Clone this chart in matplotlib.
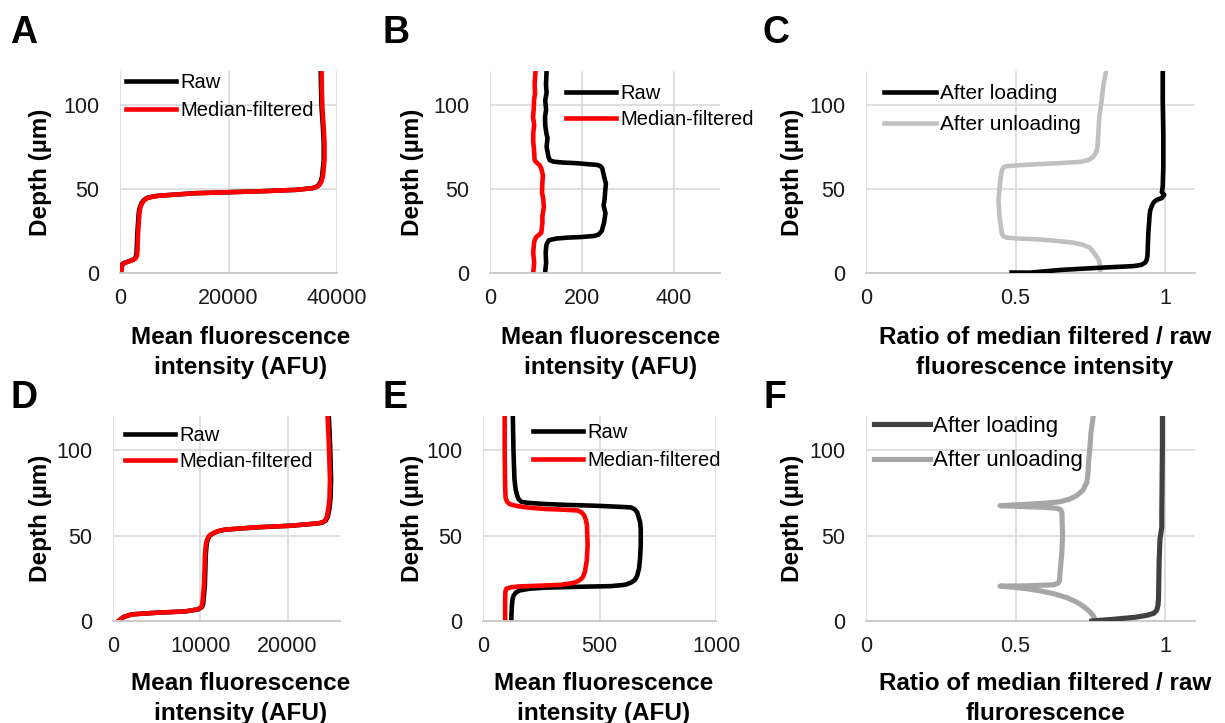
import matplotlib
matplotlib.use("Agg")
import matplotlib.pyplot as plt

plt.rcParams['font.family'] = ['Liberation Sans', 'DejaVu Sans']

W, H = 1225, 723

# ---------------- data ----------------
# Panel A
A_depth = [0, 4, 5.5, 6.5, 7.5, 8.5, 10, 12, 24, 35.6, 39, 41.5, 43.3, 44.5, 45.3, 45.9, 47.4, 48, 48.6, 49.4, 50.4, 51.2, 52.4, 54.5, 57.3, 67, 77, 87, 98.6, 110, 120]
A_raw = [150, 250, 500, 1200, 2100, 2700, 2950, 3050, 3200, 3450, 3650, 3950, 4400, 4900, 5900, 7050, 13900, 20050, 26250, 32400, 35450, 36150, 36650, 37000, 37250, 37550, 37550, 37400, 37150, 37050, 37000]
A_med = [250, 370, 600, 1300, 2200, 2840, 3100, 3200, 3330, 3580, 3750, 4070, 4500, 5000, 6000, 7160, 13950, 20100, 26300, 32470, 35550, 36300, 36790, 37150, 37400, 37700, 37700, 37530, 37300, 37200, 37160]

# Panel B
B_raw_depth = [0, 6, 12, 15, 17, 19.5, 20.5, 21, 21.4, 22, 22.8, 25, 30, 35.6, 40, 43.5, 49.4, 53, 57.3, 62.2, 63.5, 64.2, 64.7, 65.2, 65.6, 66.1, 67, 69, 72, 75, 80, 83, 88, 92.7, 97, 102.5, 107, 112, 120]
B_raw = [119.6, 122, 121, 122, 123, 128, 145, 168, 200, 226, 236, 243, 248, 251, 247, 249, 250.7, 252, 248, 244, 240, 233, 210, 190, 160, 139, 130, 127, 125, 123, 125, 122.5, 120, 119.6, 122, 120, 123, 121.7, 123]
B_med_depth = [0, 6, 12, 18, 20, 21.5, 23, 24, 30, 33.7, 39, 43.5, 48, 53.3, 58, 62, 64, 65, 66, 67, 73, 78, 83, 88, 92.7, 97, 102.5, 107, 112, 120]
B_med = [94, 96, 94, 95.7, 98, 101, 108, 111.6, 114, 113.8, 117, 116, 113, 113.8, 115, 111.6, 108, 104, 100, 97, 95.7, 94, 94, 96, 93.5, 95, 95.7, 98, 97, 99]

# Panel C
C_load_depth = [0.3, 0.2, 1.8, 3.1, 4.1, 4.8, 6.1, 7.5, 10, 23.8, 33.7, 37, 39.6, 42, 43.5, 44.5, 46.5, 48, 51.2, 63, 82.9, 102.5, 120]
C_load = [0.487, 0.548, 0.649, 0.78, 0.894, 0.92, 0.933, 0.938, 0.941, 0.944, 0.948, 0.95, 0.955, 0.962, 0.972, 0.989, 0.997, 0.989, 0.992, 0.994, 0.994, 0.992, 0.992]
C_unload_depth = [0, 4, 7, 9, 12, 15, 16.8, 18, 19.2, 20, 20.6, 21, 22, 23.8, 33.7, 43.5, 53.3, 61, 62.7, 63.5, 64.1, 64.6, 65.3, 66, 67.2, 69, 72, 75, 83, 92.7, 102.5, 112, 120]
C_unload = [0.783, 0.783, 0.78, 0.774, 0.762, 0.749, 0.725, 0.693, 0.63, 0.571, 0.5, 0.47, 0.458, 0.454, 0.446, 0.443, 0.448, 0.454, 0.46, 0.47, 0.52, 0.571, 0.65, 0.716, 0.745, 0.76, 0.77, 0.774, 0.777, 0.78, 0.788, 0.794, 0.803]

# Panel D
D_depth = [0, 2.3, 3.9, 4.9, 5.6, 6.8, 8.2, 10, 20.8, 38.3, 44, 47, 49.5, 51, 52.6, 53.5, 54.9, 55.8, 57.2, 57.8, 58.8, 61, 65.6, 72, 83, 102.5, 120]
D_raw = [640, 1200, 2160, 5200, 8260, 9750, 10200, 10330, 10520, 10620, 10710, 10800, 11020, 11350, 12050, 12850, 16680, 20500, 23580, 24080, 24370, 24600, 24780, 24920, 24980, 24870, 24720]
D_med = [610, 1180, 2140, 5190, 8240, 9690, 10100, 10230, 10420, 10530, 10620, 10730, 10950, 11300, 12000, 12820, 16640, 20460, 23510, 24000, 24270, 24500, 24660, 24800, 24850, 24730, 24580]

# Panel E
E_raw_depth = [0, 9.1, 13, 15, 16.8, 17.9, 18.9, 19.5, 20, 20.4, 21.2, 22.4, 24, 26.6, 31, 36.4, 44.2, 54, 58, 63.6, 65.5, 66.5, 67, 67.5, 68, 68.5, 69.2, 69.8, 71.5, 73.3, 77, 83, 98.6, 120]
E_raw = [121, 124, 127, 132, 142, 157, 200, 264, 400, 548, 610, 634, 652, 662, 670, 674, 677, 677, 674, 662, 650, 634, 560, 477, 350, 264, 190, 164, 152, 147, 140, 135, 131, 128]
E_med_depth = [0, 13, 17, 18.9, 19.7, 20.2, 20.7, 21.2, 22.3, 23.7, 25.5, 28.6, 35, 44.2, 56, 59, 61.9, 63.7, 64.7, 65.2, 65.6, 66.3, 67.2, 68.2, 69.6, 72, 79, 98.6, 120]
E_med = [95, 95, 96, 100, 120, 150, 250, 335, 390, 413, 428, 437, 445, 449, 446, 442, 434, 422, 406, 340, 264, 200, 150, 118, 104, 97, 95, 93, 93]

# Panel F
F_load_depth = [0, 0.5, 1, 2.2, 3.3, 4.5, 6.2, 9, 13, 34.4, 48, 54.9, 63.6, 83, 102.5, 120]
F_load = [0.755, 0.79, 0.827, 0.9, 0.939, 0.962, 0.972, 0.976, 0.978, 0.98, 0.983, 0.989, 0.989, 0.99, 0.991, 0.991]
F_unload_depth = [0, 2.5, 5.3, 8.2, 11, 13.8, 16, 17.7, 18.9, 19.8, 20.4, 20.5, 20.6, 21.2, 22.2, 23.7, 28.6, 40.3, 50, 63.6, 65.2, 66, 66.5, 66.9, 67.5, 68.3, 69, 69.8, 71.3, 73.3, 76.5, 81, 86, 92.8, 102.5, 110, 120]
F_unload = [0.766, 0.762, 0.749, 0.73, 0.705, 0.67, 0.627, 0.58, 0.537, 0.49, 0.448, 0.49, 0.537, 0.627, 0.643, 0.647, 0.649, 0.655, 0.657, 0.655, 0.65, 0.638, 0.6, 0.537, 0.448, 0.537, 0.6, 0.649, 0.68, 0.704, 0.725, 0.738, 0.742, 0.744, 0.749, 0.752, 0.76]

depth_ticks = [0, 50, 100]
AFU_label = ["Mean fluorescence", "intensity (AFU)"]
ratio_label_top = ["Ratio of median filtered / raw", "fluorescence intensity"]
ratio_label_bot = ["Ratio of median filtered / raw", "flurorescence"]
ylab = "Depth (\u00b5m)"

# ---------------- figure ----------------
fig = plt.figure(figsize=(W / 100, H / 100), dpi=100)


def make_ax(l, t, r, b):
    return fig.add_axes([l / W, 1 - b / H, (r - l) / W, (b - t) / H])


GRID = '#d9d9d9'


def style(ax, xticks, xlabels, xlim):
    ax.set_xlim(*xlim)
    ax.set_ylim(0, 120)
    ax.set_xticks(xticks)
    ax.set_xticklabels(xlabels)
    ax.set_yticks(depth_ticks)
    for s in ax.spines.values():
        s.set_visible(False)
    ax.spines['bottom'].set_visible(True)
    ax.spines['bottom'].set_color('#c8c8c8')
    ax.spines['bottom'].set_linewidth(1.3)
    ax.grid(True, color=GRID, linewidth=1.2)
    ax.set_axisbelow(True)
    ax.tick_params(axis='both', length=0, labelsize=15.5, colors='#1a1a1a')
    ax.tick_params(axis='x', pad=11)
    ax.tick_params(axis='y', pad=15)


def legend(ax, x, y, handles=None, labels=None, fs=14.5, spacing=0.45, tp=0.2):
    kw = dict(loc='upper left', bbox_to_anchor=(x / W, 1 - y / H), bbox_transform=fig.transFigure,
              frameon=False, borderpad=0, borderaxespad=0, handlelength=2.5, handletextpad=tp,
              labelspacing=spacing, fontsize=fs)
    if handles is None:
        ax.legend(**kw)
    else:
        ax.legend(handles, labels, **kw)


def xlabel(cx, base, lines):
    fig.text(cx / W, 1 - base / H, lines[0], ha='center', va='baseline', fontsize=17.5, fontweight='bold')
    fig.text(cx / W, 1 - (base + 30) / H, lines[1], ha='center', va='baseline', fontsize=17.5, fontweight='bold')


def ylabel_(cx, cy):
    fig.text(cx / W, 1 - cy / H, ylab, rotation=90, ha='center', va='center', fontsize=17.5, fontweight='bold')


def letter(x, y, s):
    fig.text(x / W, 1 - y / H, s, ha='left', va='top', fontsize=27, fontweight='bold')


LW = 3.3

# A
axA = make_ax(120, 71, 337, 273)
axA.plot(A_raw, A_depth, color='black', lw=LW, label='Raw')
axA.plot(A_med, A_depth, color='#ff0000', lw=LW, label='Median-filtered')
style(axA, [0, 20000, 40000], ['0', '20000', '40000'], (0, 40000))
legend(axA, 126, 73)

# B
axB = make_ax(490, 71, 720, 273)
axB.plot(B_raw, B_raw_depth, color='black', lw=LW, label='Raw')
axB.plot(B_med, B_med_depth, color='#ff0000', lw=LW, label='Median-filtered')
style(axB, [0, 200, 400], ['0', '200', '400'], (0, 500))
legend(axB, 566, 84, spacing=0.35)

# C
axC = make_ax(866, 71, 1195, 273)
axC.plot(C_unload, C_unload_depth, color='#c0c0c0', lw=LW, label='After unloading', zorder=2)
axC.plot(C_load, C_load_depth, color='black', lw=LW, label='After loading', zorder=3)
style(axC, [0, 0.5, 1], ['0', '0.5', '1'], (0, 1.1))
h, l = axC.get_legend_handles_labels()
legend(axC, 884, 84, h[::-1], l[::-1], fs=15, spacing=0.6)

# D
axD = make_ax(113, 416, 340, 621)
axD.plot(D_raw, D_depth, color='black', lw=LW, label='Raw')
axD.plot(D_med, D_depth, color='#ff0000', lw=LW, label='Median-filtered')
style(axD, [0, 10000, 20000], ['0', '10000', '20000'], (0, 26000))
legend(axD, 125, 426, spacing=0.35)

# E
axE = make_ax(483, 416, 716, 621)
axE.plot(E_raw, E_raw_depth, color='black', lw=LW, label='Raw')
axE.plot(E_med, E_med_depth, color='#ff0000', lw=LW, label='Median-filtered')
style(axE, [0, 500, 1000], ['0', '500', '1000'], (0, 1000))
legend(axE, 533, 423, spacing=0.45)

# F
axF = make_ax(866, 416, 1195, 621)
axF.plot(F_unload, F_unload_depth, color='#a6a6a6', lw=LW + 0.4, label='After unloading', zorder=2)
axF.plot(F_load, F_load_depth, color='#404040', lw=LW + 0.4, label='After loading', zorder=3)
style(axF, [0, 0.5, 1], ['0', '0.5', '1'], (0, 1.1))
h, l = axF.get_legend_handles_labels()
legend(axF, 874, 416, h[::-1], l[::-1], fs=16, spacing=0.6, tp=0.15)

# labels
xlabel(241, 344, AFU_label)
xlabel(611, 344, AFU_label)
xlabel(1045, 344, ratio_label_top)
xlabel(241, 690, AFU_label)
xlabel(604, 690, AFU_label)
xlabel(1045, 690, ratio_label_bot)

ylabel_(41, 172)
ylabel_(412, 172)
ylabel_(793, 172)
ylabel_(41, 518)
ylabel_(412, 518)
ylabel_(793, 518)

letter(10, 15, 'A')
letter(383, 15, 'B')
letter(763, 15, 'C')
letter(10, 380, 'D')
letter(383, 380, 'E')
letter(763, 380, 'F')

fig.savefig('out.png', dpi=100)
